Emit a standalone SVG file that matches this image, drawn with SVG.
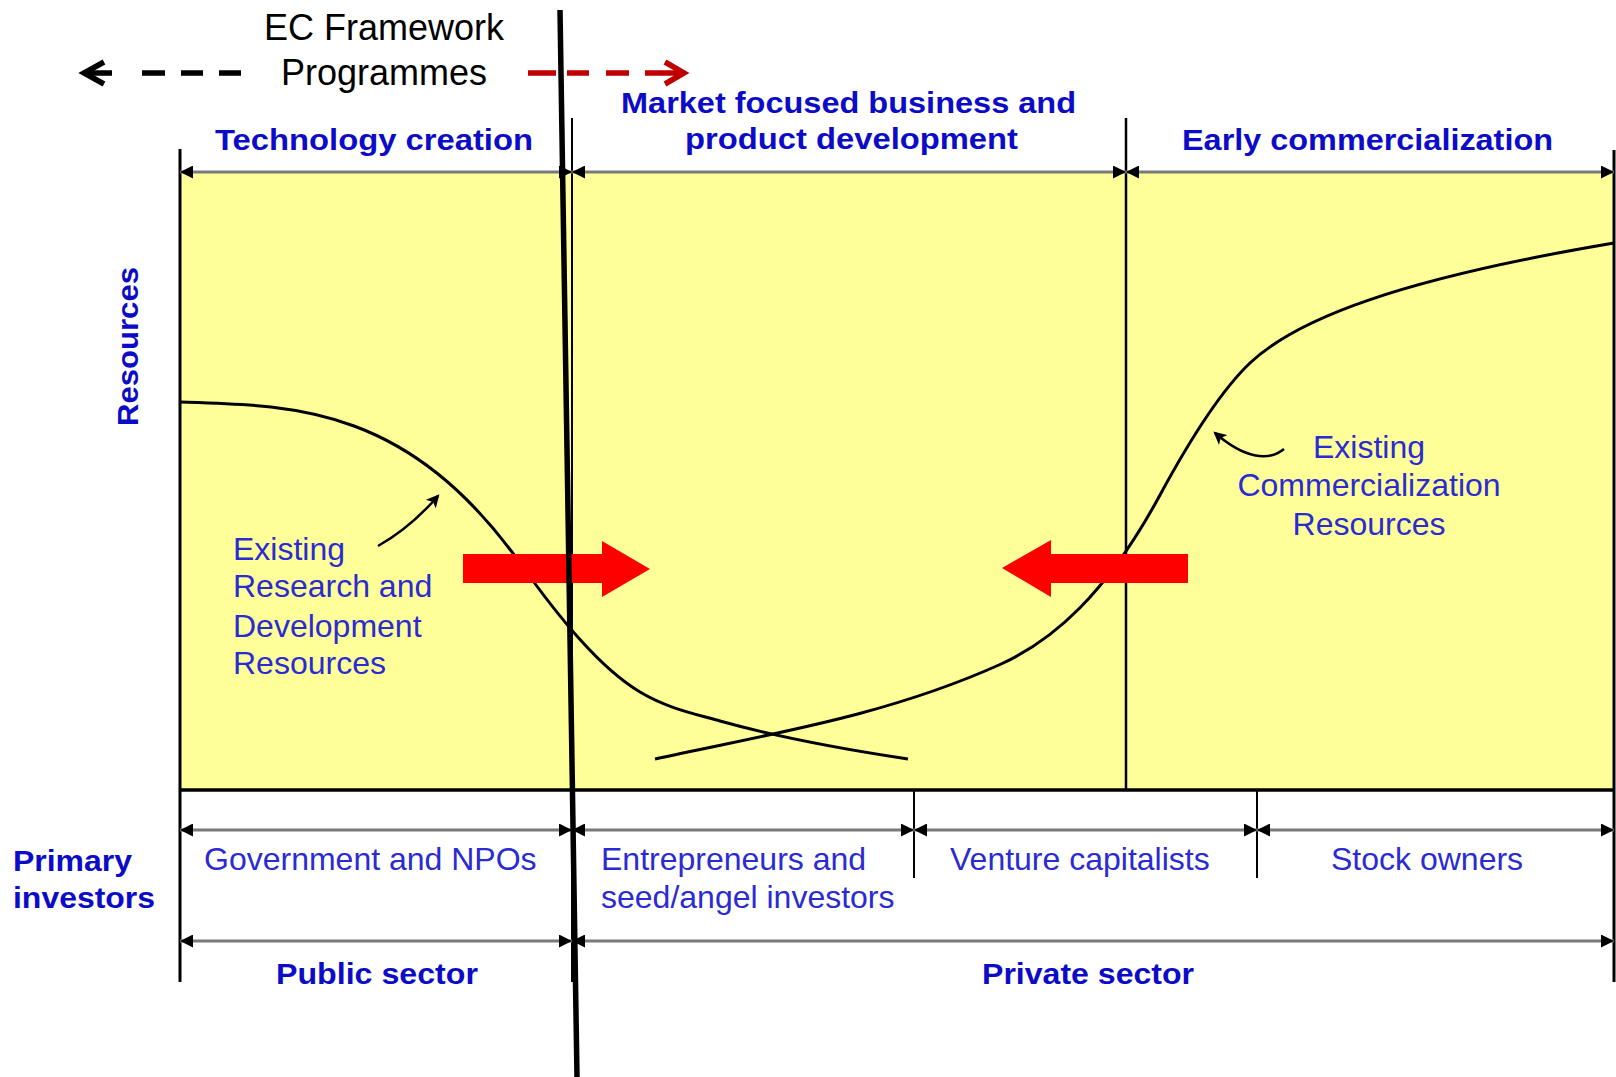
<svg xmlns="http://www.w3.org/2000/svg" width="1616" height="1077" viewBox="0 0 1616 1077">
  <style>
    .bold { font-family: "Liberation Sans", Arial, sans-serif; font-weight: bold; font-size: 29px; fill: #0b0bc8; }
    .reg { font-family: "Liberation Sans", Arial, sans-serif; font-size: 32px; fill: #2b2bd4; }
    .blk { font-family: "Liberation Sans", Arial, sans-serif; font-size: 36px; fill: #000; text-anchor: middle; }
    .dim { stroke: #7a7a7a; stroke-width: 3; fill: none; marker-start: url(#tri); marker-end: url(#tri); }
    .vline { stroke: #000; fill: none; }
    .curve { stroke: #000; stroke-width: 3; fill: none; }
    .ptr { stroke: #000; stroke-width: 2.5; fill: none; marker-end: url(#ptrhead); }
    .bigarrow { fill: #ff0000; }
  </style>
  <defs>
    <marker id="tri" viewBox="0 0 13 13" refX="13" refY="6.5" markerWidth="13" markerHeight="13" markerUnits="userSpaceOnUse" orient="auto-start-reverse">
      <path d="M0,0 L13,6.5 L0,13 z" fill="#000"/>
    </marker>
    <marker id="ptrhead" viewBox="0 0 12 12" refX="10" refY="6" markerWidth="13" markerHeight="13" markerUnits="userSpaceOnUse" orient="auto">
      <path d="M0,0 L12,6 L0,12 L3,6 z" fill="#000"/>
    </marker>
  </defs>

  <rect width="1616" height="1077" fill="#fff"/>

  <!-- chart area -->
  <rect id="chart-area" x="180" y="172" width="1434" height="618" fill="#ffff99"/>

  <!-- frame and separators -->
  <g id="frame">
    <line class="vline" x1="180" y1="149" x2="180" y2="982" stroke-width="3"/>
    <line class="vline" x1="572" y1="118" x2="572" y2="982" stroke-width="2"/>
    <line class="vline" x1="1126" y1="118" x2="1126" y2="790" stroke-width="2.5"/>
    <line class="vline" x1="1614" y1="150" x2="1614" y2="982" stroke-width="3"/>
    <line class="vline" x1="914" y1="790" x2="914" y2="878" stroke-width="2"/>
    <line class="vline" x1="1257" y1="790" x2="1257" y2="878" stroke-width="2"/>
    <line class="vline" x1="180" y1="790" x2="1614" y2="790" stroke-width="3.5"/>
  </g>

  <!-- curves and arrows -->
  <g id="connectors">
    <!-- stage spans -->
    <line class="dim" x1="180" y1="172" x2="572" y2="172"/>
    <line class="dim" x1="572" y1="172" x2="1126" y2="172"/>
    <line class="dim" x1="1126" y1="172" x2="1614" y2="172"/>
    <!-- investor spans -->
    <line class="dim" x1="180" y1="830" x2="572" y2="830"/>
    <line class="dim" x1="572" y1="830" x2="914" y2="830"/>
    <line class="dim" x1="914" y1="830" x2="1257" y2="830"/>
    <line class="dim" x1="1257" y1="830" x2="1614" y2="830"/>
    <!-- sector spans -->
    <line class="dim" x1="180" y1="941" x2="572" y2="941"/>
    <line class="dim" x1="572" y1="941" x2="1614" y2="941"/>

    <!-- resource curves -->
    <path id="curve-rd" class="curve" d="M180,402 C293,405.4 407,405 520,563 C560,619 600,668 640,692 C666.7,708 693.3,713.5 720,721 C782.7,738.6 845.3,749.6 908,759"/>
    <path id="curve-commercial" class="curve" d="M655,759 C770,733.7 885,716.25 1000,664.5 C1053.3,640.5 1106.7,593.7 1160,495 C1190,439.5 1220,391.5 1250,363 C1297,318.5 1400,279 1614,243"/>

    <!-- label pointers -->
    <path class="ptr" d="M378,546 Q410,528 438,496"/>
    <path class="ptr" d="M1284,449 C1268,462 1244,458 1215,433"/>

    <!-- transfer arrows -->
    <path class="bigarrow" d="M463,554 H602 V541 L650,569 L602,597 V583 H463 z"/>
    <path class="bigarrow" d="M1188,554 H1051 V540 L1002,568 L1051,597 V583 H1188 z"/>

    <!-- programme scope arrows -->
    <g id="ec-left-arrow" stroke="#000" stroke-width="5.5" fill="none">
      <path d="M86,73 H112 M142,73 H165 M181,73 H203 M219,73 H241"/>
      <path d="M104,62 L84,73 L104,84" stroke-linejoin="miter"/>
    </g>
    <g id="ec-right-arrow" stroke="#c00000" stroke-width="5.5" fill="none">
      <path d="M528,73 H556 M567,73 H589 M606,73 H629 M645,73 H682"/>
      <path d="M665,62 L684,73 L665,84"/>
    </g>

    <!-- framework boundary -->
    <line x1="560" y1="10" x2="577" y2="1077" stroke="#000" stroke-width="5.5"/>
  </g>

  <!-- programme label -->
  <g id="ec-framework">
    <text class="blk" x="384" y="40">EC Framework</text>
    <text class="blk" x="384" y="85">Programmes</text>
  </g>

  <!-- stage headings -->
  <g id="stage-technology-creation">
    <text class="bold" x="215" y="150" textLength="318" lengthAdjust="spacingAndGlyphs">Technology creation</text>
  </g>
  <g id="stage-market-development">
    <text class="bold" x="621" y="113" textLength="455" lengthAdjust="spacingAndGlyphs">Market focused business and</text>
    <text class="bold" x="685" y="149" textLength="333" lengthAdjust="spacingAndGlyphs">product development</text>
  </g>
  <g id="stage-early-commercialization">
    <text class="bold" x="1182" y="150" textLength="371" lengthAdjust="spacingAndGlyphs">Early commercialization</text>
  </g>

  <!-- axis label -->
  <g id="axis-resources">
    <text class="bold" transform="translate(138,426) rotate(-90)" x="0" y="0" textLength="159" lengthAdjust="spacingAndGlyphs">Resources</text>
  </g>

  <!-- curve labels -->
  <g id="label-rd-resources">
    <text class="reg" x="233" y="560">Existing</text>
    <text class="reg" x="233" y="597">Research and</text>
    <text class="reg" x="233" y="637">Development</text>
    <text class="reg" x="233" y="674">Resources</text>
  </g>
  <g id="label-commercial-resources">
    <text class="reg" x="1369" y="458" text-anchor="middle">Existing</text>
    <text class="reg" x="1369" y="496" text-anchor="middle">Commercialization</text>
    <text class="reg" x="1369" y="535" text-anchor="middle">Resources</text>
  </g>

  <!-- investors row -->
  <g id="primary-investors">
    <text class="bold" x="13" y="871" textLength="119" lengthAdjust="spacingAndGlyphs">Primary</text>
    <text class="bold" x="13" y="908" textLength="142" lengthAdjust="spacingAndGlyphs">investors</text>
  </g>
  <g id="investor-government">
    <text class="reg" x="204" y="870">Government and NPOs</text>
  </g>
  <g id="investor-entrepreneurs">
    <text class="reg" x="601" y="870">Entrepreneurs and</text>
    <text class="reg" x="601" y="908">seed/angel investors</text>
  </g>
  <g id="investor-venture">
    <text class="reg" x="950" y="870">Venture capitalists</text>
  </g>
  <g id="investor-stock">
    <text class="reg" x="1331" y="870">Stock owners</text>
  </g>

  <!-- sector row -->
  <g id="sector-public">
    <text class="bold" x="276" y="984" textLength="202" lengthAdjust="spacingAndGlyphs">Public sector</text>
  </g>
  <g id="sector-private">
    <text class="bold" x="982" y="984" textLength="212" lengthAdjust="spacingAndGlyphs">Private sector</text>
  </g>
</svg>
